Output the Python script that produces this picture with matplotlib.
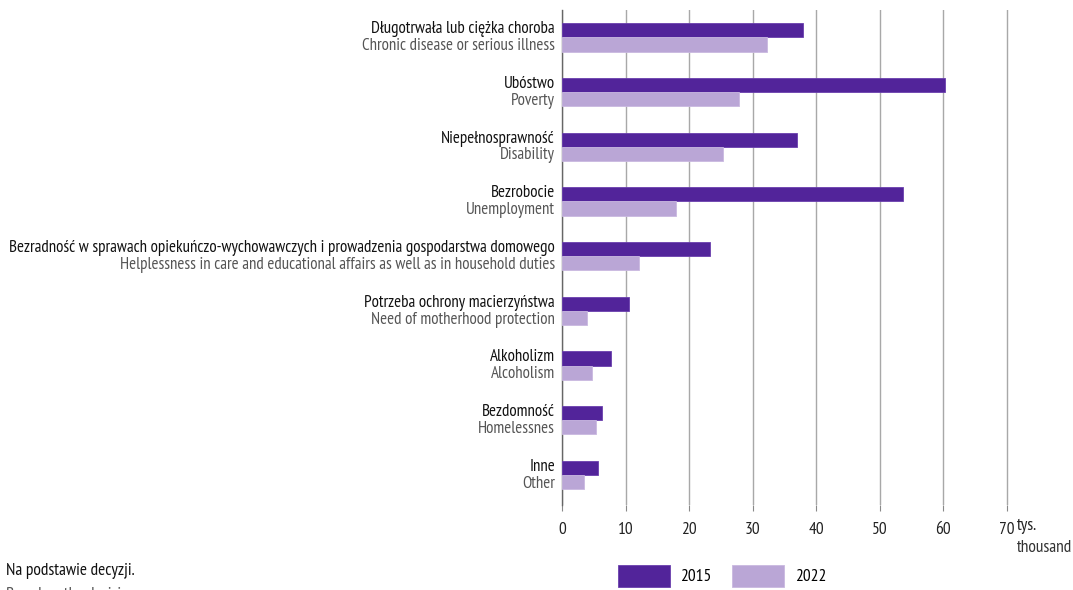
import matplotlib.pyplot as plt
import matplotlib.transforms as mtransforms
import numpy as np

plt.rcParams['font.family'] = ['PT Sans Narrow', 'DejaVu Sans']

labels_pl = ["Długotrwała lub ciężka choroba", "Ubóstwo", "Niepełnosprawność", "Bezrobocie",
             "Bezradność w sprawach opiekuńczo-wychowawczych i prowadzenia gospodarstwa domowego",
             "Potrzeba ochrony macierzyństwa", "Alkoholizm", "Bezdomność", "Inne"]
labels_en = ["Chronic disease or serious illness", "Poverty", "Disability", "Unemployment",
             "Helplessness in care and educational affairs as well as in household duties",
             "Need of motherhood protection", "Alcoholism", "Homelessnes", "Other"]
v2015 = [37.9, 60.3, 37.0, 53.6, 23.3, 10.6, 7.7, 6.3, 5.6]
v2022 = [32.2, 27.9, 25.4, 18.0, 12.1, 4.0, 4.7, 5.3, 3.4]
years = ["2015", "2022"]

dark = "#52249a"
light = "#baa6d6"

fig = plt.figure(figsize=(10.73, 5.90), dpi=100)
# axes spans 0..72 so the 70 gridline is drawn inside
ax = fig.add_axes([562 / 1073, 1 - 505 / 590, (1007 - 562) / 70 * 72 / 1073, 495 / 590])

y = np.arange(len(labels_pl))
h = 0.26
b1 = ax.barh(y - h / 2, v2015, height=h, color=dark, edgecolor="#6a3fae", linewidth=0.6, label=years[0], zorder=3)
b2 = ax.barh(y + h / 2, v2022, height=h, color=light, edgecolor="#c9b8e0", linewidth=0.6, label=years[1], zorder=3)

ax.set_xlim(0, 72)
ax.set_ylim(8.55, -0.5)
ax.set_xticks(np.arange(0, 71, 10))
ax.set_xticklabels([str(t) for t in range(0, 71, 10)], fontsize=12.5, color="#222222")
ax.tick_params(axis="x", length=4, color="#888888", pad=8)
ax.set_yticks([])
for s in ["top", "right", "bottom"]:
    ax.spines[s].set_visible(False)
ax.spines["left"].set_color("#666666")
ax.spines["left"].set_linewidth(1.0)
ax.grid(axis="x", color="#a8a8a8", linewidth=1.0, zorder=0)
ax.set_axisbelow(True)

trans = mtransforms.blended_transform_factory(ax.transAxes, ax.transData)
for i in range(len(labels_pl)):
    ax.text(-0.0155, i - h / 2 - 0.02, labels_pl[i], transform=trans, ha="right", va="center",
            fontsize=12.2, color="#111111")
    ax.text(-0.0155, i + h / 2 + 0.03, labels_en[i], transform=trans, ha="right", va="center",
            fontsize=12.2, color="#555555")

fig.text(1017 / 1073, 1 - 526 / 590, "tys.", ha="left", va="center", fontsize=12.5, color="#222222")
fig.text(1072 / 1073, 1 - 548 / 590, "thousand", ha="right", va="center", fontsize=12.5, color="#333333")

fig.legend(handles=[b1, b2], labels=years, loc="upper left", bbox_to_anchor=(602 / 1073, 1 - 549 / 590),
           ncol=2, frameon=False, fontsize=12.5, handlelength=3.0, handleheight=1.6, columnspacing=1.2,
           handletextpad=0.6)

fig.text(6 / 1073, 1 - 571 / 590, "Na podstawie decyzji.", ha="left", va="center", fontsize=12.5, color="#111111")
fig.text(6 / 1073, 1 - 595 / 590, "Based on the decisions.", ha="left", va="center", fontsize=12.5, color="#555555")

fig.savefig("out.png", dpi=100)
